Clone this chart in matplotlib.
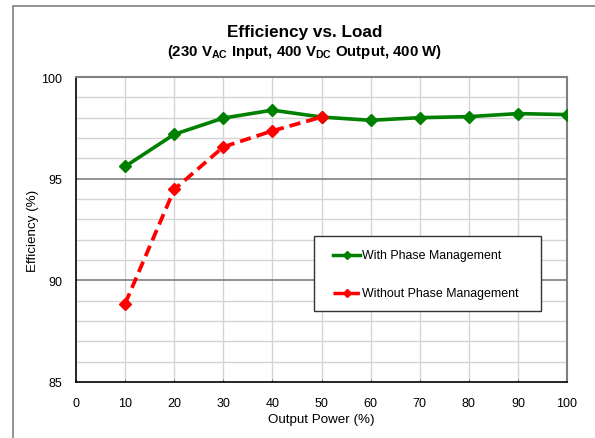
import matplotlib
matplotlib.use("Agg")
import matplotlib.pyplot as plt
from matplotlib.lines import Line2D
from matplotlib.patches import Rectangle
import numpy as np

plt.rcParams['font.family'] = ['Liberation Sans', 'DejaVu Sans']
plt.rcParams['mathtext.fontset'] = 'custom'
plt.rcParams['mathtext.rm'] = 'Liberation Sans:bold'
plt.rcParams['mathtext.it'] = 'Liberation Sans:bold'
plt.rcParams['mathtext.bf'] = 'Liberation Sans:bold'

# Output power (% of 400 W) and measured efficiency
load_with = [10, 20, 30, 40, 50, 60, 70, 80, 90, 100]
eff_with = [95.6, 97.18, 97.98, 98.37, 98.03, 97.87, 98.0, 98.05, 98.2, 98.15]
load_without = [10, 20, 30, 40, 50]
eff_without = [88.85, 94.47, 96.56, 97.35, 98.03]
series_names = ['With Phase Management', 'Without Phase Management']

x_ticks = [0, 10, 20, 30, 40, 50, 60, 70, 80, 90, 100]
y_ticks = [85, 90, 95, 100]

green = '#008000'
red = '#ff0000'
dash = (0, (3, 1.6))

W, H = 595, 439
AX_L, AX_R, AX_T, AX_B = 76, 567, 78, 383

fig = plt.figure(figsize=(W / 100, H / 100), dpi=100)
ax = fig.add_axes([AX_L / W, 1 - AX_B / H, (AX_R - AX_L) / W, (AX_B - AX_T) / H])


def ax_frac(px, py):
    """Pixel position in the figure -> axes fraction."""
    return (px - AX_L) / (AX_R - AX_L), (AX_B - py) / (AX_B - AX_T)


# outer frame
fig.add_artist(Rectangle((13 / W, -0.1), 1.2, 1 - 7 / H + 0.1, transform=fig.transFigure,
                         fill=False, edgecolor='#808080', linewidth=1.2))

ax.set_xlim(0, 100)
ax.set_ylim(85, 100)

# grid: light lines every 1 %, darker at 90 and 95
for y in np.arange(86, 100, 1):
    if y in (90, 95):
        ax.axhline(y, color='#7f7f7f', linewidth=1.2, zorder=1)
    else:
        ax.axhline(y, color='#d4d4d4', linewidth=1.0, zorder=0.5)
for x in x_ticks[1:-1]:
    ax.axvline(x, color='#d4d4d4', linewidth=1.0, zorder=0.5)

ax.plot(load_with, eff_with, color=green, linewidth=2.6, marker='D', markersize=6,
        zorder=3)
ax.plot(load_without, eff_without, color=red, linewidth=2.7, linestyle=dash,
        marker='D', markersize=6, zorder=4)

for s in ('left', 'bottom'):
    ax.spines[s].set_color('black')
    ax.spines[s].set_linewidth(1.2)
for s in ('top', 'right'):
    ax.spines[s].set_color('#808080')
    ax.spines[s].set_linewidth(1.5)

ax.set_xticks(x_ticks)
ax.set_yticks(y_ticks)
ax.tick_params(axis='x', length=2, direction='in', pad=11, labelsize=9, color='#808080')
ax.tick_params(axis='y', length=0, pad=10, labelsize=9)

ax.set_xlabel('Output Power (%)', fontsize=9.6, labelpad=3)
ax.set_ylabel('Efficiency (%)', fontsize=9.6)
ax.yaxis.set_label_coords(*ax_frac(33, (AX_T + AX_B) / 2))
ax.yaxis.label.set_va('center')

fig.text(305 / W, 1 - 33 / H, 'Efficiency vs. Load', ha='center', va='center',
         fontsize=12.3, fontweight='bold')
fig.text(305 / W, 1 - 52 / H,
         r'(230 V$_{\mathrm{AC}}$ Input, 400 V$_{\mathrm{DC}}$ Output, 400 W)',
         ha='center', va='center', fontsize=10.8, fontweight='bold')

# legend box
x0, y0 = ax_frac(314, 312)
x1, y1 = ax_frac(541, 237)
ax.add_patch(Rectangle((x0, y0), x1 - x0, y1 - y0, transform=ax.transAxes,
                       facecolor='white', edgecolor='#333333', linewidth=1.0, zorder=6))
entries = [(series_names[0], green, '-', 256), (series_names[1], red, dash, 294)]
for name, col, ls, py in entries:
    hx0, hy = ax_frac(333, py)
    hx1, _ = ax_frac(360, py)
    ax.add_line(Line2D([hx0, hx1], [hy, hy], transform=ax.transAxes, color=col,
                       linewidth=2.5, linestyle=ls, zorder=7))
    ax.add_line(Line2D([(hx0 + hx1) / 2], [hy], transform=ax.transAxes, color=col,
                       marker='D', markersize=4, linestyle='none', zorder=7))
    tx, _ = ax_frac(362, py)
    ax.text(tx, hy, name, transform=ax.transAxes, ha='left', va='center',
            fontsize=8.9, zorder=7)

fig.savefig('out.png', dpi=100)
